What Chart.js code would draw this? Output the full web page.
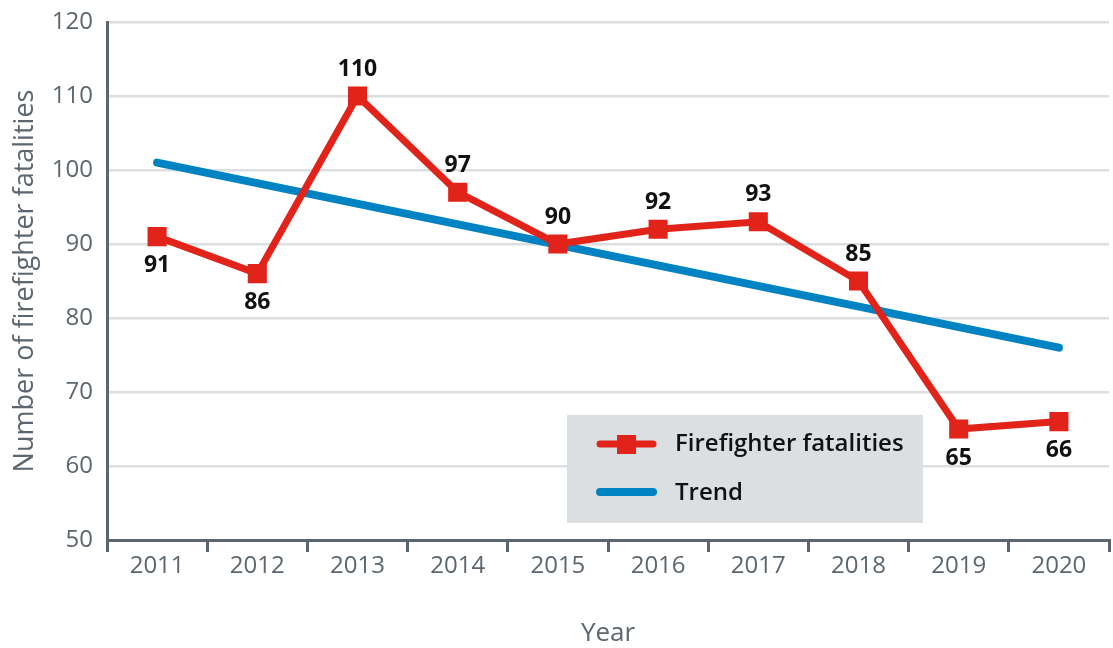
<!DOCTYPE html>
<html>
<head>
<meta charset="utf-8">
<script src="https://cdn.jsdelivr.net/npm/chart.js@4.4.1/dist/chart.umd.min.js"></script>
<style>
  html, body { margin: 0; padding: 0; background: #ffffff; }
  #wrap { width: 1113px; height: 648px; position: relative; }
</style>
</head>
<body>
<div id="wrap"><canvas id="c" width="1113" height="648"></canvas></div>
<script>
const years = ['2011','2012','2013','2014','2015','2016','2017','2018','2019','2020'];
const fatalities = [91, 86, 110, 97, 90, 92, 93, 85, 65, 66];
const trend = [101, null, null, null, null, null, null, null, null, 76];
const labelBelow = [true, true, false, false, false, false, false, false, true, true];
const yTicks = [50, 60, 70, 80, 90, 100, 110, 120];

const RED = '#e2231a';
const BLUE = '#0083c3';
const AXIS = '#5b6670';
const GRID = '#dcdfe2';
const FONT = "'Open Sans', 'Noto Sans', sans-serif";

const valueLabels = {
  id: 'valueLabels',
  afterDatasetsDraw(chart) {
    const ctx = chart.ctx;
    const meta = chart.getDatasetMeta(1);
    ctx.save();
    ctx.font = "bold 23px " + FONT;
    ctx.fillStyle = '#111111';
    ctx.textAlign = 'center';
    ctx.textBaseline = 'middle';
    meta.data.forEach((pt, i) => {
      const dy = labelBelow[i] ? 29 : -27;
      ctx.fillText(String(fatalities[i]), pt.x, pt.y + dy);
    });
    ctx.restore();
  }
};

const boxLegend = {
  id: 'boxLegend',
  afterDraw(chart) {
    const ctx = chart.ctx;
    ctx.save();
    ctx.fillStyle = GRID;
    ctx.fillRect(567, 415, 356, 108);
    ctx.lineCap = 'round';
    ctx.strokeStyle = RED;
    ctx.lineWidth = 7;
    ctx.beginPath(); ctx.moveTo(600, 444); ctx.lineTo(653, 444); ctx.stroke();
    ctx.fillStyle = RED;
    ctx.fillRect(617, 435, 19, 19);
    ctx.strokeStyle = BLUE;
    ctx.lineWidth = 8;
    ctx.beginPath(); ctx.moveTo(600, 492); ctx.lineTo(653, 492); ctx.stroke();
    ctx.fillStyle = '#111111';
    ctx.font = "600 24px " + FONT;
    ctx.textAlign = 'left';
    ctx.textBaseline = 'middle';
    ctx.fillText('Firefighter fatalities', 675, 444);
    ctx.fillText('Trend', 675, 493);
    ctx.restore();
  }
};

new Chart(document.getElementById('c'), {
  type: 'line',
  data: {
    labels: years,
    datasets: [
      {
        label: 'Trend',
        data: trend,
        borderColor: BLUE,
        borderWidth: 8,
        borderCapStyle: 'round',
        pointRadius: 0,
        spanGaps: true,
        tension: 0,
        order: 2
      },
      {
        label: 'Firefighter fatalities',
        data: fatalities,
        borderColor: RED,
        backgroundColor: RED,
        borderWidth: 7,
        pointStyle: 'rect',
        pointRadius: 13.5,
        pointBorderWidth: 0,
        pointBackgroundColor: RED,
        tension: 0,
        order: 1
      }
    ]
  },
  options: {
    responsive: false,
    animation: false,
    devicePixelRatio: 1,
    layout: { autoPadding: false, padding: { top: 22, right: 4, left: 0, bottom: 0 } },
    plugins: {
      legend: { display: false },
      tooltip: { enabled: false }
    },
    scales: {
      x: {
        type: 'category',
        offset: true,
        border: { display: true, color: AXIS, width: 3 },
        grid: {
          display: true,
          offset: true,
          drawOnChartArea: true,
          drawTicks: true,
          tickLength: 12,
          lineWidth: 3,
          color: (c) => (c.index === years.length ? GRID : 'rgba(0,0,0,0)'),
          tickColor: AXIS,
          tickWidth: 3
        },
        ticks: {
          color: AXIS,
          font: { family: FONT, size: 24 },
          padding: 0,
          maxRotation: 0
        },
        title: {
          display: true,
          text: 'Year',
          color: AXIS,
          font: { family: FONT, size: 26, lineHeight: 1.0 },
          padding: { top: 0, bottom: 1 }
        },
        afterFit: (s) => { s.height = 108; s.paddingLeft = 0; s.paddingRight = 0; }
      },
      y: {
        min: 50,
        max: 120,
        afterBuildTicks: (s) => { s.ticks = yTicks.map(v => ({ value: v })); },
        border: { display: true, color: AXIS, width: 3 },
        grid: {
          color: (c) => (c.tick && c.tick.value === 50 ? 'rgba(0,0,0,0)' : GRID),
          lineWidth: 2.5,
          drawTicks: false
        },
        ticks: {
          color: AXIS,
          font: { family: FONT, size: 24 },
          padding: 14
        },
        title: {
          display: true,
          text: 'Number of firefighter fatalities',
          color: AXIS,
          font: { family: FONT, size: 27, lineHeight: 1.0 },
          padding: { top: 12, bottom: 0 }
        },
        afterFit: (s) => { s.width = 107; s.paddingTop = 0; s.paddingBottom = 0; }
      }
    }
  },
  plugins: [valueLabels, boxLegend]
});
</script>
</body>
</html>
